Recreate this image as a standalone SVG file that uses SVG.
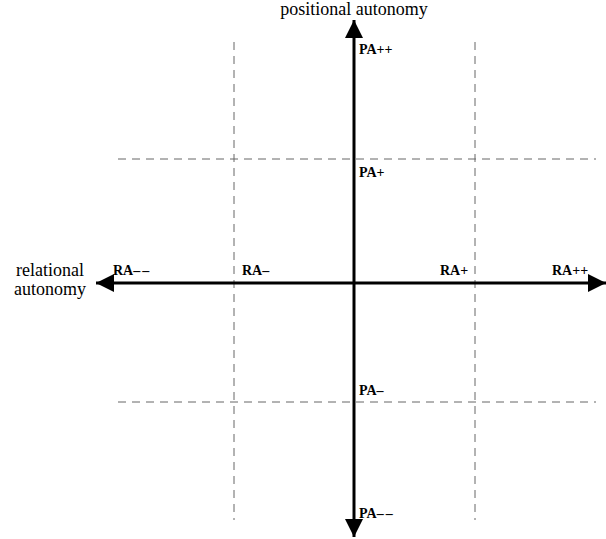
<svg xmlns="http://www.w3.org/2000/svg" width="606" height="539" viewBox="0 0 606 539">
<style>
.dash{stroke:#666;stroke-width:1;stroke-dasharray:8,6;fill:none}
.axis{stroke:#000;stroke-width:3;fill:none}
text{font-family:"Liberation Serif","Times New Roman","DejaVu Serif",serif;fill:#000}
.lbl{font-weight:bold;font-size:14px}
.title{font-size:18px}
.sp{letter-spacing:2px}
</style>
<defs>
<marker id="ah" viewBox="0 0 10 10" refX="10" refY="5" markerWidth="6" markerHeight="6" orient="auto" markerUnits="strokeWidth">
<path d="M0,0 L10,5 L0,10 z" fill="#000"/>
</marker>
</defs>
<g id="grid">
<line class="dash" x1="234" y1="42" x2="234" y2="520"/>
<line class="dash" x1="475" y1="42" x2="475" y2="520"/>
<line class="dash" x1="118" y1="159" x2="596" y2="159"/>
<line class="dash" x1="118" y1="402" x2="596" y2="402"/>
</g>
<g id="connectors">
<line class="axis" x1="354" y1="283" x2="354" y2="20" marker-end="url(#ah)"/>
<line class="axis" x1="354" y1="283" x2="354" y2="537" marker-end="url(#ah)"/>
<line class="axis" x1="354" y1="283" x2="96" y2="283" marker-end="url(#ah)"/>
<line class="axis" x1="354" y1="283" x2="606" y2="283" marker-end="url(#ah)"/>
</g>
<g id="titles">
<text class="title" x="354" y="15" text-anchor="middle">positional autonomy</text>
<text class="title" x="50" y="276" text-anchor="middle">relational</text>
<text class="title" x="50" y="295" text-anchor="middle">autonomy</text>
</g>
<g id="pa_pp"><text class="lbl" x="359" y="54">PA++</text></g>
<g id="pa_p"><text class="lbl" x="359" y="177">PA+</text></g>
<g id="pa_m"><text class="lbl" x="359" y="395">PA–</text></g>
<g id="pa_mm"><text class="lbl" x="359" y="518">PA<tspan class="sp">––</tspan></text></g>
<g id="ra_mm"><text class="lbl" x="113" y="275">RA<tspan class="sp">––</tspan></text></g>
<g id="ra_m"><text class="lbl" x="242" y="275">RA–</text></g>
<g id="ra_p"><text class="lbl" x="440" y="275">RA+</text></g>
<g id="ra_pp"><text class="lbl" x="552" y="275">RA++</text></g>
</svg>
